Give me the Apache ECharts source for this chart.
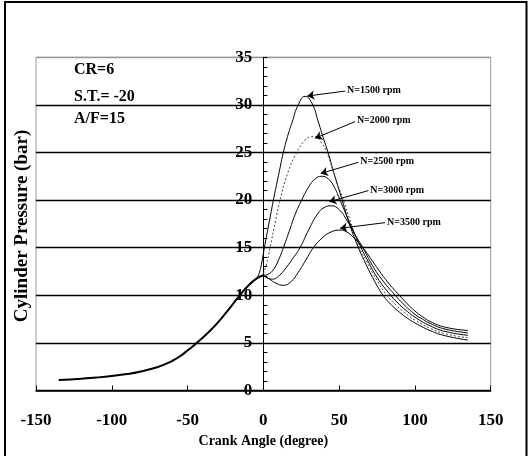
<!DOCTYPE html>
<html>
<head>
<meta charset="utf-8">
<script src="https://cdn.jsdelivr.net/npm/echarts@6/dist/echarts.min.js"></script>
<style>html,body{margin:0;padding:0;background:#fff;}#c{width:531px;height:456px;}</style>
</head>
<body>
<div id="c"></div>
<script>
// ---- data ----
const xTicks = [-150, -100, -50, 0, 50, 100, 150];
const yTicks = [0, 5, 10, 15, 20, 25, 30, 35];

const compAngle = [-135,-120,-110,-100,-90,-80,-70,-65,-60,-55,-50,-45,-40,-35,-30,-25,-20,-15,-10,-5,0];
const compP     = [1.1,1.24,1.36,1.52,1.73,2.03,2.45,2.75,3.12,3.6,4.2,4.85,5.55,6.3,7.15,8.1,9.1,10.1,11.0,11.7,12.1];

const a1500 = [-5,-3,-1,1,4,7,10,13.2,16,19,23,27.5,32,36.3,40,42.9,47,52,57,62.7,67,72,79,85,90,95,100,110,120,135];
const p1500 = [11.7,12.2,13.5,15.3,17.8,20.3,22.6,25,26.7,28.2,30.0,30.9,30.2,28.2,26.3,24.9,22.6,20,17.4,15,13.5,11.9,10,8.9,8.2,7.6,7.1,6.3,5.75,5.3];

const a2000 = [0,2,4.4,8,11,16,22,27,31,34,38,41.8,47,52.8,58,63.5,68,73,81.5,88,93,100,110,120,135];
const p2000 = [12.3,13.2,15,17.8,20,22.8,25,26.2,26.65,26.7,26.1,25,22.6,20,17.5,15,13.6,12.1,10,8.9,8.2,7.4,6.55,5.95,5.55];

const a2500 = [0,3,6.6,10,13.2,17,21,25.3,30,34,38.5,43,47,50.6,57,64.5,69,75,84,90,95,100,110,120,135];
const p2500 = [12.1,12.2,12.7,13.7,15,16.7,18.5,20,21.4,22.2,22.5,22.2,21.3,20,17.6,15,13.6,11.9,10,9.0,8.3,7.7,6.8,6.2,5.8];

const a3000 = [0,3,6,10,15,20,24.2,30,36,40,44.7,50,55,60,66,71,78,87,92,100,105,110,120,135];
const p3000 = [12.1,11.8,11.7,12.0,12.9,14.0,15,16.9,18.6,19.2,19.4,19.0,17.9,16.5,14.9,13.4,11.7,10,9.15,8.0,7.5,7.05,6.45,6.05];

const a3500 = [0,4,8,13.2,18,23,28,33,38,44,51,55,59,63,68,75,82,90,95,100,105,110,120,135];
const p3500 = [12.1,11.7,11.3,11.05,11.4,12.4,13.7,15,15.9,16.6,16.85,16.65,16.15,15.5,14.5,12.9,11.4,9.95,9.1,8.35,7.75,7.25,6.65,6.3];

const rpmLabels = ['N=1500 rpm','N=2000 rpm','N=2500 rpm','N=3000 rpm','N=3500 rpm'];
const labelStart = [[53.9,31.45],[60.5,28.24],[62.7,23.97],[69.3,21.0],[80.3,17.63]];
const arrowTip   = [[29.0,30.93],[34.1,26.5],[37.9,22.8],[43.5,19.83],[50.6,17.04]];

const notes = ['CR=6', 'S.T.= -20', 'A/F=15'];

// ---- build ----
const serif = "'Liberation Serif','Times New Roman',serif";
const gridLeft = 36;
function zip(a, p) { return a.map((v, i) => [v, p[i]]); }
const curves = [[a1500,p1500],[a2000,p2000],[a2500,p2500],[a3000,p3000],[a3500,p3500]];

const series = [{
  type: 'line', data: zip(compAngle, compP), showSymbol: false, smooth: 0.5,
  lineStyle: { color: '#000', width: 2 }, z: 5
}];
curves.forEach((c, i) => {
  series.push({
    type: 'line', data: zip(c[0], c[1]), showSymbol: false, smooth: 0.5,
    lineStyle: { color: i === 1 ? '#444' : '#000', width: 1, type: i === 1 ? [2, 2] : 'solid' },
    markLine: {
      silent: true, animation: false,
      symbol: ['none', 'arrow'], symbolSize: 7,
      lineStyle: { color: '#000', width: 1, type: 'solid' },
      label: { show: true, position: 'start', distance: 2, formatter: rpmLabels[i],
        fontFamily: serif, fontWeight: 'bold', fontSize: 10, color: '#000' },
      data: [[{ coord: labelStart[i] }, { coord: arrowTip[i] }]]
    }
  });
});

const chart = echarts.init(document.getElementById('c'), null, { renderer: 'canvas' });
chart.setOption({
  animation: false,
  backgroundColor: '#fff',
  grid: { left: gridLeft, right: 40.3, top: 57.3, bottom: 65.5, show: true, borderColor: '#999', borderWidth: 1 },
  xAxis: {
    type: 'value', min: xTicks[0], max: xTicks[xTicks.length - 1], interval: 50,
    axisLine: { show: true, onZero: false, lineStyle: { color: '#000', width: 1.5 } },
    axisTick: { show: true, inside: true, length: 5, lineStyle: { color: '#000' } },
    axisLabel: { margin: 22, fontFamily: serif, fontWeight: 'bold', fontSize: 17, color: '#000' },
    splitLine: { show: false },
    name: 'Crank Angle (degree)', nameLocation: 'middle', nameGap: 31,
    nameTextStyle: { fontFamily: serif, fontWeight: 'bold', fontSize: 14, color: '#000' }
  },
  yAxis: {
    type: 'value', min: yTicks[0], max: yTicks[yTicks.length - 1], interval: 5,
    axisLine: { show: true, onZero: false, lineStyle: { color: '#000', width: 1 } },
    axisTick: { show: true, inside: true, length: 4, lineStyle: { color: '#000' } },
    minorTick: { show: true, splitNumber: 5, length: 4, lineStyle: { color: '#000' } },
    axisLabel: { margin: 11, fontFamily: serif, fontWeight: 'bold', fontSize: 17, color: '#000' },
    splitLine: { show: true, lineStyle: { color: ['#000','#000','#000','#000','#000','#000','#000','#999'], width: 1.3 } }
  },
  graphic: [
    { type: 'rect', shape: { x: 5, y: 2, width: 521.5, height: 470 }, style: { fill: 'none', stroke: '#000', lineWidth: 2 }, z: 100 },
    { type: 'text', x: 22, y: 226, rotation: Math.PI / 2,
      style: { text: 'Cylinder Pressure (bar)', font: "bold 19px 'Liberation Serif', serif", fill: '#000', align: 'center', verticalAlign: 'middle' } },
    { type: 'text', x: 74, y: 70, style: { text: notes[0], font: "bold 16px 'Liberation Serif', serif", fill: '#000', verticalAlign: 'middle' } },
    { type: 'text', x: 74, y: 96.7, style: { text: notes[1], font: "bold 16px 'Liberation Serif', serif", fill: '#000', verticalAlign: 'middle' } },
    { type: 'text', x: 74, y: 119, style: { text: notes[2], font: "bold 16px 'Liberation Serif', serif", fill: '#000', verticalAlign: 'middle' } }
  ],
  series: series
});
// move the y axis (line, ticks, labels) onto x = 0 using the x scale
const x0 = chart.convertToPixel({ xAxisIndex: 0 }, 0);
chart.setOption({ yAxis: { offset: gridLeft - x0 } });
</script>
</body>
</html>
